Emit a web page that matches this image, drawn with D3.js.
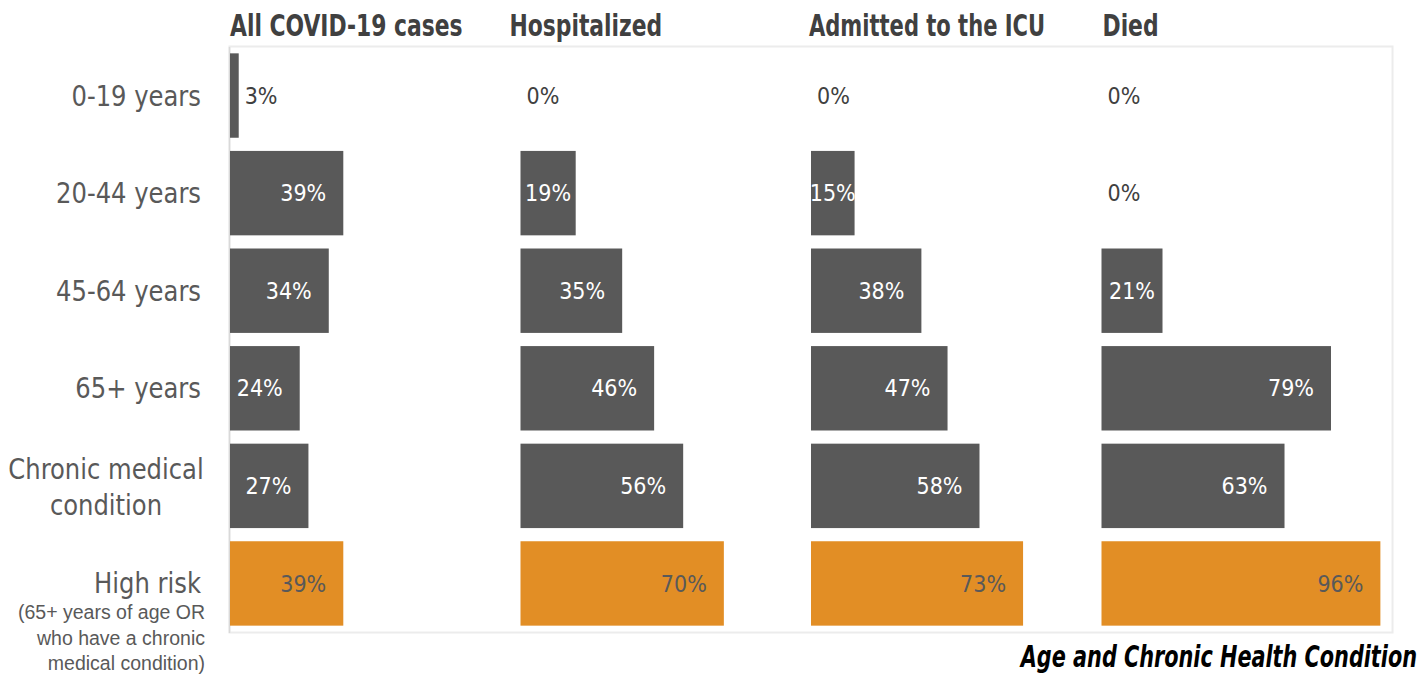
<!DOCTYPE html>
<html><head><meta charset="utf-8">
<script src="https://cdn.jsdelivr.net/npm/d3@7"></script>
<style>
html,body{margin:0;padding:0;background:#fff;}
svg{display:block;}
</style>
</head><body>
<svg id="chart" width="1426" height="675"></svg>
<script>
const categories = ["0-19 years","20-44 years","45-64 years","65+ years","Chronic medical condition","High risk"];
const panels = ["All COVID-19 cases","Hospitalized","Admitted to the ICU","Died"];
const allCases     = [3, 39, 34, 24, 27, 39];
const hospitalized = [0, 19, 35, 46, 56, 70];
const icu          = [0, 15, 38, 47, 58, 73];
const died         = [0, 0, 21, 79, 63, 96];
const seriesValues = [allCases, hospitalized, icu, died];
const highRiskNote = ["(65+ years of age OR","who have a chronic","medical condition)"];
const footerTitle = "Age and Chronic Health Condition";

(function(){
const svg = d3.select("#chart");
const FONT = '"Liberation Sans Narrow","DejaVu Sans Condensed","Roboto Condensed",sans-serif';
const pl = 230, pr = 1392, pt = 47, pb = 632;
const squeeze = (sel, ax, s) => sel.attr("transform", `translate(${ax},0) scale(${s},1) translate(${-ax},0)`);

const panelScale = d3.scaleBand().domain(panels).range([pl, pr]).padding(0);
const y = d3.scaleBand().domain(categories).range([pt, pb]).paddingInner(0.135).paddingOuter(0.065);

svg.append("rect").attr("x", pl - 0.5).attr("y", pt - 0.5)
  .attr("width", pr - pl + 1).attr("height", pb - pt + 1)
  .attr("fill", "none").attr("stroke", "#ececec").attr("stroke-width", 2);
svg.append("line").attr("x1", pl - 0.5).attr("x2", pl - 0.5).attr("y1", pt).attr("y2", pb + 1)
  .attr("stroke", "#d9d9d9").attr("stroke-width", 1.5);

const titleOffsets = [0, -11, -2, 1];
const titleSqueeze = [0.81, 0.81, 0.78, 0.81];
panels.forEach((p, pi) => {
  const x0 = panelScale(p);
  const x = d3.scaleLinear().domain([0, 100]).range([x0, x0 + panelScale.bandwidth()]);
  const tt = svg.append("text").attr("x", x0 + titleOffsets[pi]).attr("y", 36)
    .attr("font-family", FONT).attr("font-size", 30).attr("font-weight", "bold")
    .attr("fill", "#404040").text(p);
  squeeze(tt, x0 + titleOffsets[pi], titleSqueeze[pi]);
  const g = svg.append("g");
  seriesValues[pi].forEach((v, i) => {
    const c = categories[i];
    const isHigh = i === categories.length - 1;
    g.append("rect").attr("x", x(0)).attr("y", y(c))
      .attr("width", x(v) - x(0)).attr("height", y.bandwidth())
      .attr("fill", isHigh ? "#E28E25" : "#595959");
    const t = g.append("text").attr("font-family", FONT).attr("font-size", 23)
      .attr("y", y(c) + y.bandwidth() / 2).attr("dy", "0.35em").text(v + "%");
    const w = t.node().getComputedTextLength();
    const barW = x(v) - x(0);
    if (barW < w + 4) {
      if (barW > 30) {
        t.attr("x", x(0) + barW / 2).attr("text-anchor", "middle").attr("fill", "#fff");
      } else {
        t.attr("x", x(v) + 6).attr("text-anchor", "start").attr("fill", "#404040");
      }
    } else {
      const end = x(v) - 17;
      if (end - w < x(0) + 2) {
        t.attr("x", x(0) + barW / 2).attr("text-anchor", "middle");
      } else {
        t.attr("x", end).attr("text-anchor", "end");
      }
      t.attr("fill", isHigh ? "#595959" : "#fff");
    }
  });
});

const LS = 0.93;
categories.forEach((c, i) => {
  const cy = y(c) + y.bandwidth() / 2;
  if (c === "Chronic medical condition") {
    const t = svg.append("text").attr("font-family", FONT).attr("font-size", 29)
      .attr("fill", "#595959").attr("text-anchor", "middle");
    t.append("tspan").attr("x", 106).attr("y", cy - 7).text("Chronic medical");
    t.append("tspan").attr("x", 106).attr("y", cy + 29).text("condition");
    squeeze(t, 106, LS);
  } else if (i === categories.length - 1) {
    const h = svg.append("text").attr("font-family", FONT).attr("font-size", 29)
      .attr("fill", "#595959").attr("text-anchor", "end")
      .attr("x", 201).attr("y", cy + 10).text(c);
    squeeze(h, 201, LS);
    const t = svg.append("text").attr("font-family", "'Liberation Sans','DejaVu Sans',sans-serif")
      .attr("font-size", 19.5).attr("fill", "#595959").attr("text-anchor", "end");
    highRiskNote.forEach((s, k) => {
      t.append("tspan").attr("x", 205).attr("y", cy + 36 + k * 25.5).text(s);
    });
  } else {
    const t = svg.append("text").attr("font-family", FONT).attr("font-size", 29)
      .attr("fill", "#595959").attr("text-anchor", "end")
      .attr("x", 201).attr("y", cy + 10).text(c);
    squeeze(t, 201, LS);
  }
});

const f = svg.append("text").attr("x", 1417).attr("y", 667).attr("text-anchor", "end")
  .attr("font-family", FONT).attr("font-size", 30).attr("font-weight", "bold")
  .attr("font-style", "italic").attr("fill", "#000").text(footerTitle);
squeeze(f, 1417, 0.77);
})();
</script>
</body></html>
